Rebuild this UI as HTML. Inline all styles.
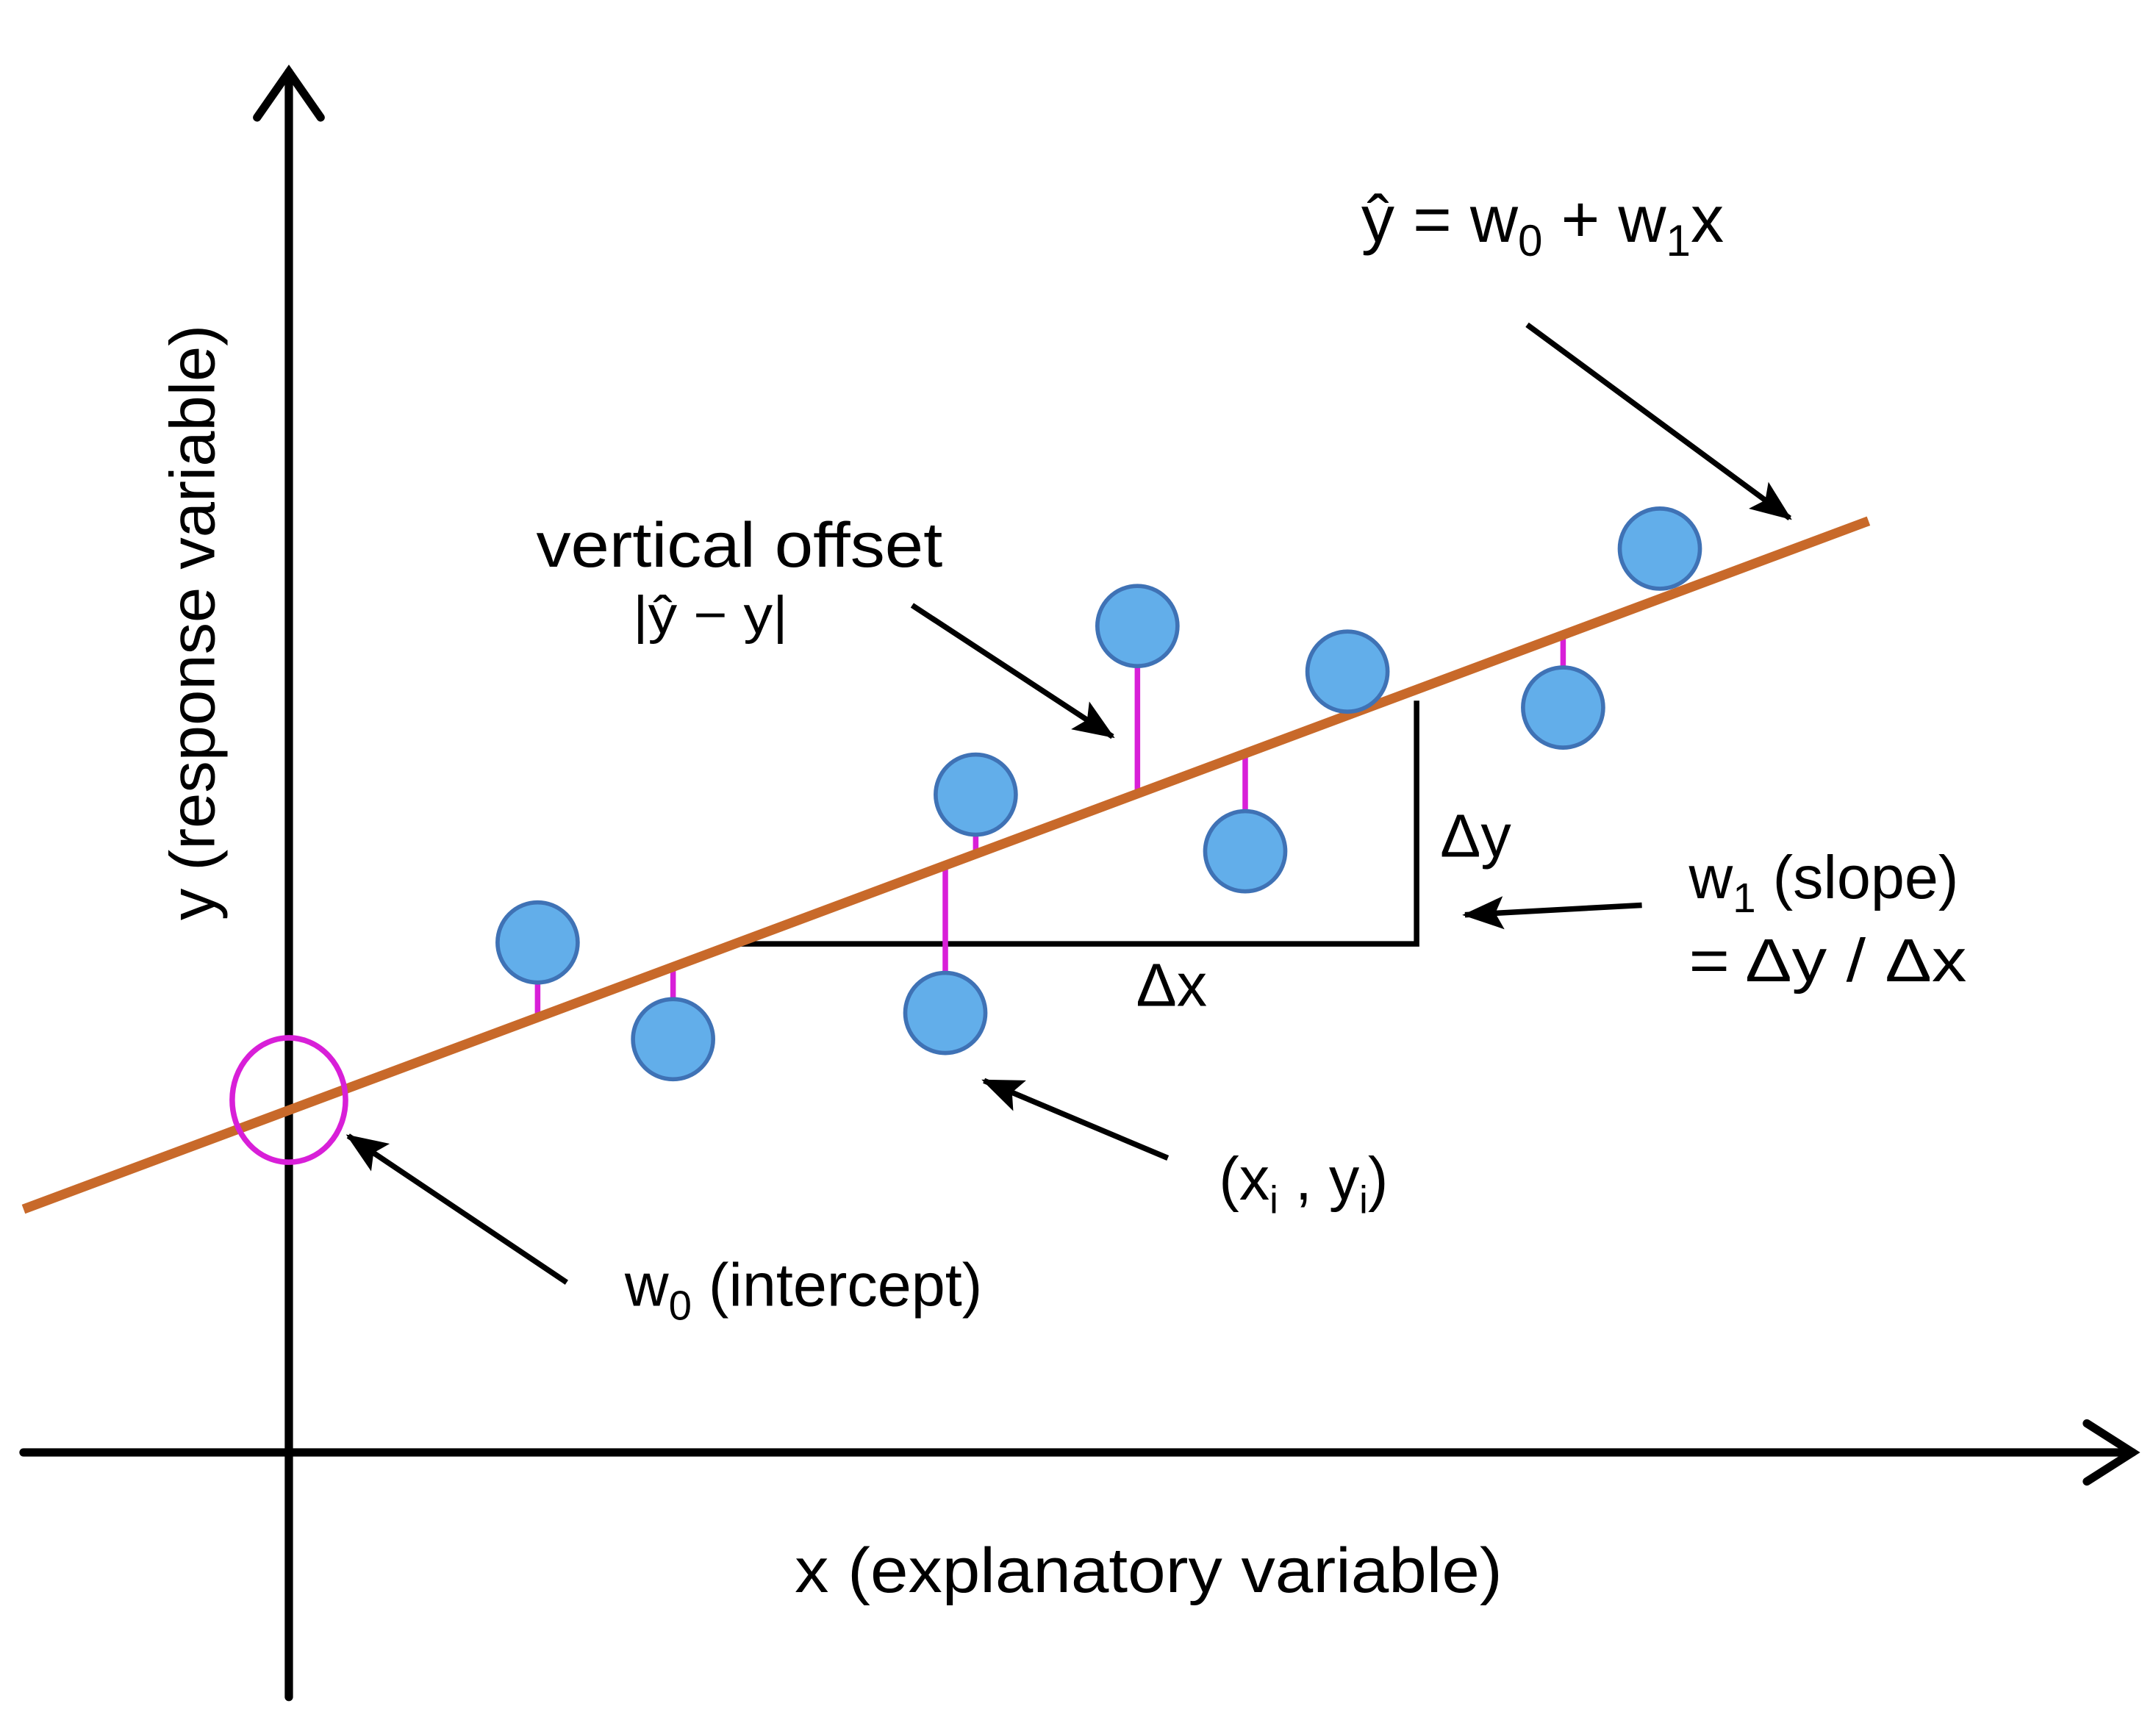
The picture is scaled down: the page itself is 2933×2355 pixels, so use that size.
<!DOCTYPE html>
<html><head><meta charset="utf-8"><style>html,body{margin:0;padding:0;background:#fff}svg{display:block}text{font-family:"Liberation Sans",sans-serif;fill:#000}</style></head>
<body>
<svg width="2933" height="2355" viewBox="0 0 1560 1252.6" xmlns="http://www.w3.org/2000/svg">
<defs>
<marker id="a2" markerWidth="30" markerHeight="24" refX="28" refY="12" orient="auto" markerUnits="userSpaceOnUse"><path d="M0,0 L30,12 L0,24 L6,12 Z" fill="#000"/></marker></defs>
<g stroke="#000" stroke-width="6" fill="none" stroke-linecap="round">
<line x1="209" y1="1228" x2="209" y2="52"/>
<polyline points="186,85 209,52 232,85"/>
<line x1="17" y1="1051" x2="1543" y2="1051"/>
<polyline points="1510,1030 1543,1051 1510,1072"/>
</g>
<g stroke="#000" stroke-width="4" fill="none">
<polyline points="535,683 1025,683 1025,507"/>
<line x1="1105" y1="235" x2="1295" y2="375" marker-end="url(#a2)"/>
<line x1="660" y1="438" x2="805" y2="533" marker-end="url(#a2)"/>
<line x1="1188" y1="655" x2="1060" y2="662" marker-end="url(#a2)"/>
<line x1="845" y1="838" x2="712" y2="782" marker-end="url(#a2)"/>
<line x1="410" y1="928" x2="252" y2="822" marker-end="url(#a2)"/>
</g>
<g stroke="#d81fd8" stroke-width="4">
<line x1="389" y1="705" x2="389" y2="736"/>
<line x1="487" y1="700" x2="487" y2="728"/>
<line x1="706" y1="600" x2="706" y2="618"/>
<line x1="684" y1="626" x2="684" y2="708"/>
<line x1="823" y1="478" x2="823" y2="574"/>
<line x1="901" y1="545" x2="901" y2="592"/>
<line x1="1131" y1="459" x2="1131" y2="488"/>
</g>
<line x1="17" y1="875" x2="1352" y2="377" stroke="#c8692a" stroke-width="7"/>
<ellipse cx="209" cy="796" rx="41" ry="45" fill="none" stroke="#d81fd8" stroke-width="4"/>
<g fill="#62aeea" stroke="#3f72b5" stroke-width="3">
<circle cx="389" cy="682" r="29"/><circle cx="487" cy="752" r="29"/><circle cx="706" cy="575" r="29"/>
<circle cx="684" cy="733" r="29"/><circle cx="823" cy="453" r="29"/><circle cx="975" cy="486" r="29"/>
<circle cx="901" cy="616" r="29"/><circle cx="1131" cy="512" r="29"/><circle cx="1201" cy="397" r="29"/>
</g>
<text x="985" y="175" font-size="48">ŷ = w<tspan font-size="32" dy="10">0</tspan><tspan dy="-10"> + w</tspan><tspan font-size="32" dy="10">1</tspan><tspan dy="-10">x</tspan></text>
<text x="388" y="410" font-size="46" textLength="294" lengthAdjust="spacingAndGlyphs">vertical offset</text>
<text x="458" y="458" font-size="38" textLength="112" lengthAdjust="spacingAndGlyphs">|ŷ − y|</text>
<text x="822" y="728" font-size="44">Δx</text>
<text x="1042" y="620" font-size="44">Δy</text>
<text x="1222" y="650" font-size="44">w<tspan font-size="30" dy="10">1</tspan><tspan dy="-10"> (slope)</tspan></text>
<text x="1222" y="710" font-size="44" textLength="201" lengthAdjust="spacingAndGlyphs">= Δy / Δx</text>
<text x="882" y="868" font-size="44">(x<tspan font-size="28" dy="10">i</tspan><tspan dy="-10"> , y</tspan><tspan font-size="28" dy="10">i</tspan><tspan dy="-10">)</tspan></text>
<text x="452" y="945" font-size="44">w<tspan font-size="30" dy="10">0</tspan><tspan dy="-10"> (intercept)</tspan></text>
<text x="575" y="1152" font-size="46" textLength="512" lengthAdjust="spacingAndGlyphs">x (explanatory variable)</text>
<text transform="translate(155,666) rotate(-90)" font-size="46" textLength="431" lengthAdjust="spacingAndGlyphs">y (response variable)</text>
</svg>
</body></html>
